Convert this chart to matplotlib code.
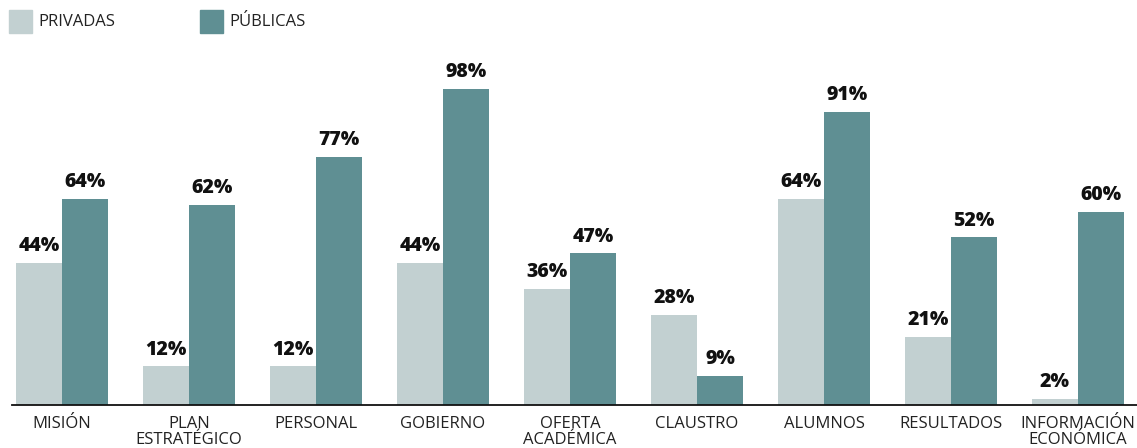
import numpy as np
import matplotlib.pyplot as plt
from matplotlib.patches import Rectangle

categorias = ["MISIÓN", "PLAN\nESTRATÉGICO", "PERSONAL", "GOBIERNO", "OFERTA\nACADÉMICA",
              "CLAUSTRO", "ALUMNOS", "RESULTADOS", "INFORMACIÓN\nECONÓMICA"]
privadas = [44, 12, 12, 44, 36, 28, 64, 21, 2]
publicas = [64, 62, 77, 98, 47, 9, 91, 52, 60]

c_priv = "#c2d0d1"
c_pub = "#5f8f93"
txt = "#222222"

plt.rcParams['font.family'] = ['Open Sans', 'DejaVu Sans']

W, H = 1137, 448
fig = plt.figure(figsize=(W / 100, H / 100), dpi=100)
# axes: left at px 12, right edge, baseline at px 405, 100% at ~82 px
ax = fig.add_axes([12 / W, 1 - 405 / H, 1 - 12 / W, 322.4 / H])

x = np.arange(len(categorias))
w = 46 / 127
b1 = ax.bar(x - w / 2, privadas, w, color=c_priv)
b2 = ax.bar(x + w / 2, publicas, w, color=c_pub)

for bars, vals in ((b1, privadas), (b2, publicas)):
    for r, v in zip(bars, vals):
        ax.annotate(f"{v}%", (r.get_x() + r.get_width() / 2, v), xytext=(0, 8.5),
                    textcoords="offset points", ha="center", va="baseline",
                    fontsize=14, fontweight=800, color="#111111")

ax.set_xlim((12 - 62) / 127, (W - 62) / 127)
ax.set_ylim(0, 100)
ax.set_xticks(x)
ax.set_xticklabels(categorias, fontsize=12, color=txt, linespacing=0.95, va="top")
ax.tick_params(axis="x", length=0, pad=8)
ax.set_yticks([])
for s in ("top", "right", "left"):
    ax.spines[s].set_visible(False)
ax.spines["bottom"].set_color("#111111")
ax.spines["bottom"].set_linewidth(1.3)

# legend
for px, col, lab in ((9, c_priv, "PRIVADAS"), (200, c_pub, "PÚBLICAS")):
    fig.add_artist(Rectangle((px / W, 1 - 33 / H), 23 / W, 23 / H,
                             transform=fig.transFigure, color=col))
    fig.text((px + 29) / W, 1 - 22 / H, lab, fontsize=12, color=txt, va="center")

fig.savefig("out.png", dpi=100)
